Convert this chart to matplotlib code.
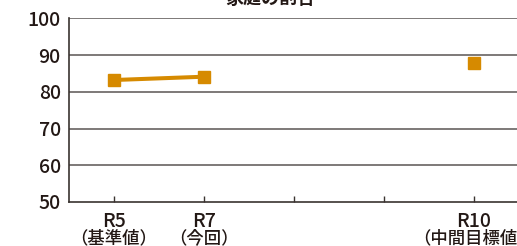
import matplotlib
matplotlib.use("Agg")
import matplotlib.pyplot as plt

plt.rcParams['font.family'] = ['Noto Sans CJK JP', 'DejaVu Sans']

# data
categories = ["R5", "R7", "R8", "R9", "R10"]
sub_labels = ["（基準値）", "（今回）", "", "", "（中間目標値）"]
actual_x = [0, 1]
actual_vals = [83.2, 84.1]
target_x = [4]
target_vals = [87.9]
yticks = [50, 60, 70, 80, 90, 100]

colour = "#D68A00"
dark = "#3a3330"
txt = "#231815"

fig = plt.figure(figsize=(5.17, 2.46), dpi=100)
ax = fig.add_axes([0.1335, 0.179, 0.87, 0.7466])

for v in yticks[1:]:
    ax.axhline(v, color="#5a5553", lw=1.1, zorder=1)

ax.plot(actual_x, actual_vals, color=colour, lw=2.9, marker="s",
        markersize=8.6, zorder=3)
ax.plot(target_x, target_vals, color=colour, lw=0, marker="s",
        markersize=8.6, zorder=3)

ax.set_xlim(-0.5, 4.5)
ax.set_ylim(50, 100)
ax.set_yticks(yticks)
ax.set_yticklabels([str(v) for v in yticks], fontsize=14, color=txt,
                   fontweight="medium")
ax.tick_params(axis="y", length=0, pad=6)

ax.set_xticks(range(len(categories)))
ax.set_xticklabels([])
ax.tick_params(axis="x", direction="in", length=4, width=1, color=dark)
for i, (c, s) in enumerate(zip(categories, sub_labels)):
    if c in ("R8", "R9"):
        continue
    ax.text(i, 47.3, c, ha="center", va="top", fontsize=14,
            color=txt, fontweight="medium", clip_on=False)
    ax.text(i, 42.6, s, ha="center", va="top", fontsize=12.5,
            color=txt, fontweight="medium", clip_on=False)

for side in ("top", "right"):
    ax.spines[side].set_visible(False)
for side in ("left", "bottom"):
    ax.spines[side].set_color(dark)
    ax.spines[side].set_linewidth(1.2)

# title sits mostly above the canvas in the reference
fig.text(0.523, 1.005, "家庭の割合", ha="center", va="center",
         fontsize=13, fontweight="bold", color=txt)

fig.savefig("out.png", dpi=100)
